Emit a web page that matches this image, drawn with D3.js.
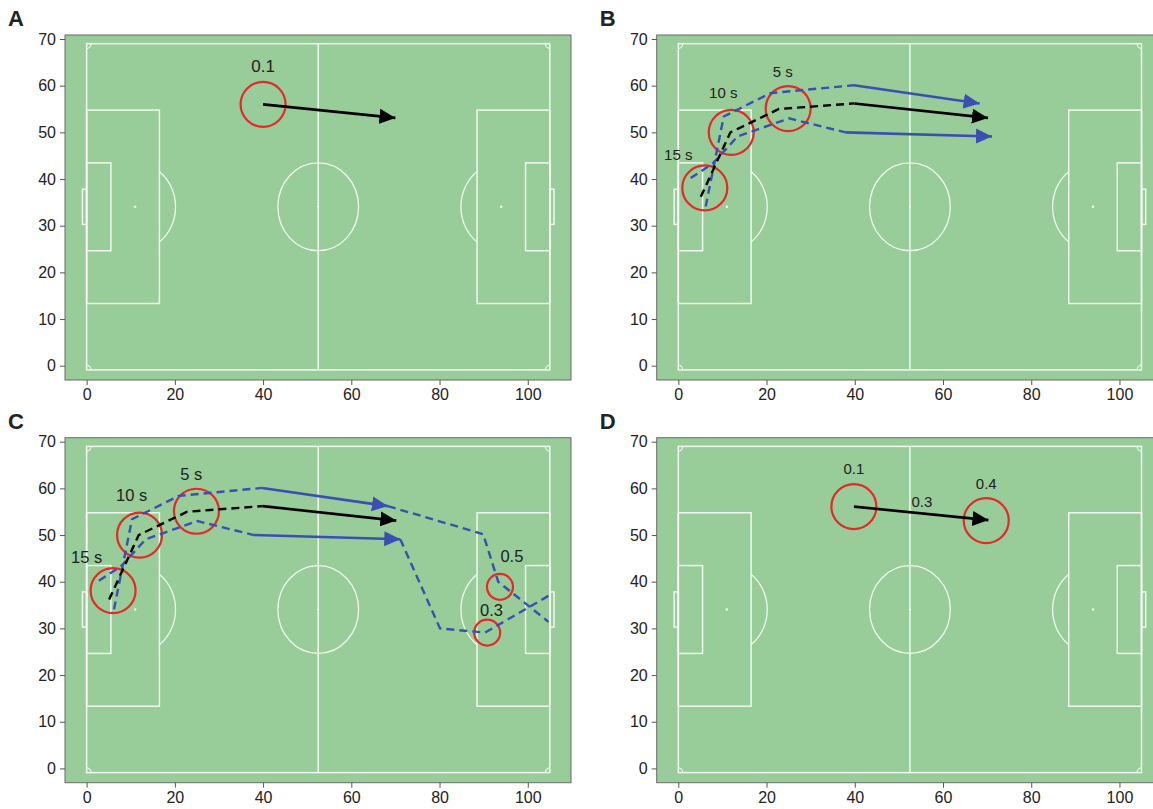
<!DOCTYPE html>
<html>
<head>
<meta charset="utf-8">
<script src="https://cdn.jsdelivr.net/npm/d3@7"></script>
<style>
  body { margin: 0; background: #fff; }
  svg { display: block; }
  text { font-family: "Liberation Sans", Arial, Helvetica, sans-serif; fill: #222; }
</style>
</head>
<body>
<svg id="chart" width="1153" height="809"></svg>
<script>
// ---- axes ----
const xTicks = [0, 20, 40, 60, 80, 100];
const yTicks = [0, 10, 20, 30, 40, 50, 60, 70];
const xExtent = [-4.9, 109.8];
const yExtent = [-3.06, 70.86];

// ---- pitch (metres); touchlines sit at these y-axis values ----
const pitchLength = 105;
const pitchWidth = 68;
const pitchYAxis = [-0.9, 69.0];

// ---- trajectories (axis units) ----
const meanPath = [[5.1, 36.2], [11.8, 50.0], [22.8, 55.0], [39.9, 56.2]];
const meanArrowEnd = [70.2, 53.1];
const upperPath = [[6.2, 34.1], [10.3, 53.4], [20.9, 58.4], [39.8, 60.1]];
const upperArrowEnd = [68.3, 56.2];
const lowerPath = [[2.8, 40.2], [7.9, 43.4], [13.4, 49.1], [25.1, 53.0], [37.9, 50.0]];
const lowerArrowEnd = [71.1, 49.1];
const upperContinuation = [[68.3, 56.2], [89.9, 50.2], [93.3, 40.0], [104.7, 31.4]];
const lowerContinuation = [[71.1, 49.1], [80.1, 30.0], [90.3, 29.1], [105.1, 37.2]];

// time-step rings on the mean path
const timeRings = [[6.0, 38.1], [12.0, 50.0], [24.9, 55.1]];
const timeLabels = ["15 s", "10 s", "5 s"];
const timeLabelPos = [[0.0, 45.2], [10.2, 58.6], [23.7, 63.0]];

// panel A: single pass
const passStartA = [40.0, 56.0];
const passEndA = [70.0, 53.1];
const passLabelA = "0.1";
const passLabelPosA = [40.0, 64.2];

// panel C: end points of the bounding runs
const endRings = [[93.7, 38.9], [90.8, 29.1]];
const endLabels = ["0.5", "0.3"];
const endLabelPos = [[96.4, 45.4], [91.8, 33.9]];

// panel D: pass between two players
const passStartD = [39.8, 56.1];
const passEndD = [70.3, 53.2];
const ringsD = [[39.8, 56.1], [69.8, 53.1]];
const ringLabelsD = ["0.1", "0.4"];
const ringLabelPosD = [[39.8, 64.3], [69.8, 61.1]];
const passLabelD = "0.3";
const passLabelPosD = [55.2, 57.1];

// ---- styling ----
const GREEN = "#98cc98";
const LINE = "rgba(255,255,255,0.85)";
const BLUE = "#3b4fb3";
const RED = "#e5282a";
const BLACK = "#000";
const PW = 506, PH = 345;
const R_BIG = 22.5, R_SMALL = 13;

const svg = d3.select("#chart");

// arrowheads
const defs = svg.append("defs");
[["head-black", BLACK], ["head-blue", BLUE]].forEach(([id, col]) => {
  defs.append("marker")
    .attr("id", id)
    .attr("markerUnits", "userSpaceOnUse")
    .attr("viewBox", "0 -8 16 16")
    .attr("refX", 16).attr("refY", 0)
    .attr("markerWidth", 16).attr("markerHeight", 16)
    .attr("orient", "auto")
    .append("path")
    .attr("d", "M0,-7.5L16,0L0,7.5Z")
    .attr("fill", col);
});

const panels = [
  { id: "A", left: 65, top: 35 },
  { id: "B", left: 656.7, top: 35 },
  { id: "C", left: 65, top: 437.7 },
  { id: "D", left: 656.7, top: 437.7 }
];

panels.forEach(p => {
  const g = svg.append("g").attr("transform", `translate(${p.left},${p.top})`);
  const x = d3.scaleLinear().domain(xExtent).range([0, PW]);
  const y = d3.scaleLinear().domain(yExtent).range([PH, 0]);
  const py = d3.scaleLinear().domain([0, pitchWidth]).range([y(pitchYAxis[0]), y(pitchYAxis[1])]);

  // background
  g.append("rect").attr("width", PW).attr("height", PH).attr("fill", GREEN);

  drawPitch(g, x, py);

  // frame
  g.append("rect").attr("width", PW).attr("height", PH)
    .attr("fill", "none").attr("stroke", "#6b6b6b").attr("stroke-width", 1);

  // axes
  const ax = g.append("g").attr("transform", `translate(0,${PH})`)
    .call(d3.axisBottom(x).tickValues(xTicks).tickSize(5).tickPadding(4));
  const ay = g.append("g")
    .call(d3.axisLeft(y).tickValues(yTicks).tickSize(5).tickPadding(4));
  [ax, ay].forEach(a => {
    a.select(".domain").remove();
    a.selectAll(".tick line").attr("stroke", "#555");
    a.selectAll(".tick text").attr("font-size", 16).attr("fill", "#222")
      .attr("font-family", '"Liberation Sans", Arial, sans-serif');
  });

  // panel letter
  svg.append("text")
    .attr("x", p.left - 57).attr("y", p.top - 9)
    .attr("font-size", 22).attr("font-weight", "bold").attr("fill", "#111")
    .text(p.id);

  const line = d3.line().x(d => x(d[0])).y(d => y(d[1]));
  const ring = (c, r) => g.append("circle")
    .attr("cx", x(c[0])).attr("cy", y(c[1])).attr("r", r)
    .attr("fill", "none").attr("stroke", RED).attr("stroke-width", 2.2);
  const label = (pos, txt, size) => g.append("text")
    .attr("x", x(pos[0])).attr("y", y(pos[1])).attr("dy", "0.36em")
    .attr("text-anchor", "middle").attr("font-size", size).text(txt);
  const dashed = (pts, col) => g.append("path").attr("d", line(pts))
    .attr("fill", "none").attr("stroke", col).attr("stroke-width", 2.4)
    .attr("stroke-dasharray", "8,5");
  const arrow = (a, b, col, head) => g.append("path").attr("d", line([a, b]))
    .attr("fill", "none").attr("stroke", col).attr("stroke-width", 2.6)
    .attr("marker-end", `url(#${head})`);

  if (p.id === "A") {
    ring(passStartA, R_BIG);
    label(passLabelPosA, passLabelA, 17);
    arrow(passStartA, passEndA, BLACK, "head-black");
  }

  if (p.id === "B" || p.id === "C") {
    const fs = p.id === "B" ? 15 : 16.5;
    timeRings.forEach(c => ring(c, R_BIG));
    timeLabels.forEach((t, i) => label(timeLabelPos[i], t, fs));
    if (p.id === "C") {
      endRings.forEach(c => ring(c, R_SMALL));
      endLabels.forEach((t, i) => label(endLabelPos[i], t, 16.5));
      dashed(upperContinuation, BLUE);
      dashed(lowerContinuation, BLUE);
    }
    dashed(upperPath, BLUE);
    dashed(lowerPath, BLUE);
    dashed(meanPath, BLACK);
    arrow(upperPath[upperPath.length - 1], upperArrowEnd, BLUE, "head-blue");
    arrow(lowerPath[lowerPath.length - 1], lowerArrowEnd, BLUE, "head-blue");
    arrow(meanPath[meanPath.length - 1], meanArrowEnd, BLACK, "head-black");
  }

  if (p.id === "D") {
    ringsD.forEach(c => ring(c, R_BIG));
    ringLabelsD.forEach((t, i) => label(ringLabelPosD[i], t, 15));
    label(passLabelPosD, passLabelD, 15);
    arrow(passStartD, passEndD, BLACK, "head-black");
  }
});

function drawPitch(g, x, py) {
  const L = pitchLength, W = pitchWidth, mid = W / 2;
  const lines = g.append("g").attr("fill", "none").attr("stroke", LINE).attr("stroke-width", 1.5);
  const rect = (x0, x1, y0, y1) => lines.append("rect")
    .attr("x", x(Math.min(x0, x1))).attr("y", py(Math.max(y0, y1)))
    .attr("width", Math.abs(x(x1) - x(x0))).attr("height", Math.abs(py(y1) - py(y0)));

  rect(0, L, 0, W);
  lines.append("line").attr("x1", x(L / 2)).attr("x2", x(L / 2)).attr("y1", py(0)).attr("y2", py(W));

  const rx = x(9.15) - x(0), ry = py(0) - py(9.15);
  lines.append("ellipse").attr("cx", x(L / 2)).attr("cy", py(mid)).attr("rx", rx).attr("ry", ry)
    .attr("stroke-width", 1.3);

  // boxes and goals, both ends
  [[0, 1], [L, -1]].forEach(([gx, dir]) => {
    rect(gx, gx + dir * 16.5, mid - 20.16, mid + 20.16);
    rect(gx, gx + dir * 5.5, mid - 9.16, mid + 9.16);
    rect(gx, gx - dir * 0.95, mid - 3.66, mid + 3.66);
    g.append("circle").attr("cx", x(gx + dir * 11)).attr("cy", py(mid)).attr("r", 1.3).attr("fill", LINE);
    // arc of the D outside the penalty area
    const theta = Math.acos(5.5 / 9.15);
    const pts = d3.range(-theta, theta + 1e-6, theta / 40).map(t => [
      x(gx + dir * (11 + 9.15 * Math.cos(t))), py(mid + 9.15 * Math.sin(t))
    ]);
    lines.append("path").attr("d", d3.line()(pts)).attr("stroke-width", 1.3);
  });

  g.append("circle").attr("cx", x(L / 2)).attr("cy", py(mid)).attr("r", 1.1).attr("fill", LINE);

  // corner arcs
  [[0, 0, 1, 1], [0, W, 1, -1], [L, 0, -1, 1], [L, W, -1, -1]].forEach(([cx, cy, sx, sy]) => {
    const pts = d3.range(0, Math.PI / 2 + 1e-6, Math.PI / 16).map(t => [
      x(cx + sx * 1.0 * Math.cos(t)), py(cy + sy * 1.0 * Math.sin(t))
    ]);
    lines.append("path").attr("d", d3.line()(pts)).attr("stroke-width", 1.1);
  });
}
</script>
</body>
</html>
